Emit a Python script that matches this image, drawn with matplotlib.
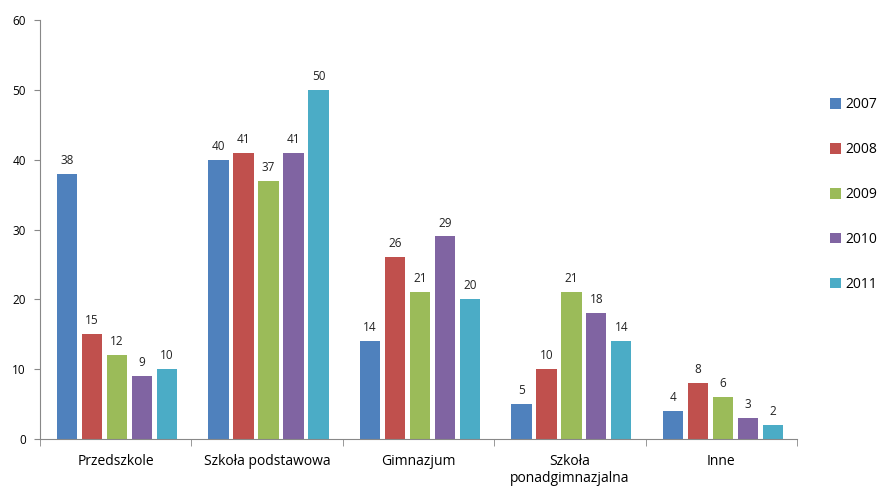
import numpy as np
import matplotlib.pyplot as plt

categories = ["Przedszkole", "Szkoła podstawowa", "Gimnazjum", "Szkoła\nponadgimnazjalna", "Inne"]
years = ["2007", "2008", "2009", "2010", "2011"]
v2007 = [38, 40, 14, 5, 4]
v2008 = [15, 41, 26, 10, 8]
v2009 = [12, 37, 21, 21, 6]
v2010 = [9, 41, 29, 18, 3]
v2011 = [10, 50, 20, 14, 2]
series = [v2007, v2008, v2009, v2010, v2011]
colors = ["#4F81BD", "#C0504D", "#9BBB59", "#8064A2", "#4BACC6"]

plt.rcParams['font.family'] = ['Open Sans', 'DejaVu Sans']

fig = plt.figure(figsize=(8.84, 4.88), dpi=100)
ax = fig.add_axes([0.045, 0.1004, 0.8566, 0.8586])

x = np.arange(len(categories))
step = 0.165
w = 0.134
handles = []
for i, (vals, c, yr) in enumerate(zip(series, colors, years)):
    pos = x + (i - 2) * step + 0.01
    b = ax.bar(pos, vals, w, color=c, label=yr)
    handles.append(b)
    for p, v in zip(pos, vals):
        ax.annotate(str(v), (p, v), xytext=(0, 5), textcoords="offset points",
                    ha="center", va="bottom", fontsize=8.5, color="#222222")

ax.set_xlim(-0.5, len(categories) - 0.5)
ax.set_ylim(0, 60)
ax.set_yticks(range(0, 61, 10))
ax.set_xticks(x)
ax.set_xticklabels(categories, fontsize=10)
ax.set_xticks(np.arange(-0.5, len(categories), 1), minor=True)
ax.tick_params(axis="x", which="major", length=0, pad=11)
ax.tick_params(axis="x", which="minor", length=5, color="#888888")
ax.tick_params(axis="y", length=4, color="#888888", labelsize=8.5, pad=6)
for s in ["top", "right"]:
    ax.spines[s].set_visible(False)
for s in ["left", "bottom"]:
    ax.spines[s].set_color("#888888")

fig.legend(handles=handles, loc="upper left", bbox_to_anchor=(0.925, 0.826),
           frameon=False, fontsize=10, handlelength=0.8, handleheight=0.8,
           handletextpad=0.3, labelspacing=2.15)

fig.savefig("out.png", dpi=100)
